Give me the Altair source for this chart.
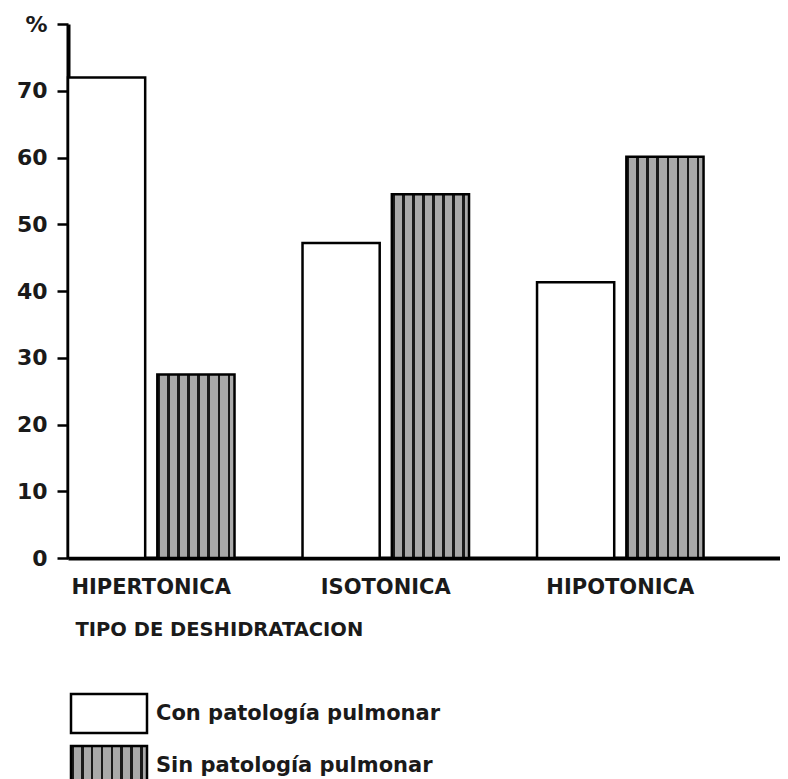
import altair as alt
import pandas as pd

categorias = ["HIPERTONICA", "ISOTONICA", "HIPOTONICA"]
series = ["Con patología pulmonar", "Sin patología pulmonar"]
con_valores = [72.0, 47.2, 41.3]
sin_valores = [27.5, 54.5, 60.1]
y_ticks = [0, 10, 20, 30, 40, 50, 60, 70, 80]

rows = []
for c, v in zip(categorias, con_valores):
    rows.append({"tipo": c, "serie": series[0], "pct": v})
for c, v in zip(categorias, sin_valores):
    rows.append({"tipo": c, "serie": series[1], "pct": v})
df = pd.DataFrame(rows)
leg = pd.DataFrame({"serie": series})

FONT = "DejaVu Sans"

# vertical stripes: dark lines on grey
stops = []
period = 0.13
dark = 0.035
k = 0
while k * period < 1.0:
    a = k * period
    b = min(a + dark, 1.0)
    stops.append(alt.GradientStop(offset=a, color="#1a1a1a"))
    stops.append(alt.GradientStop(offset=b, color="#1a1a1a"))
    stops.append(alt.GradientStop(offset=b, color="#a9a9a9"))
    c = min(a + period, 1.0)
    stops.append(alt.GradientStop(offset=c, color="#a9a9a9"))
    k += 1
stripes = alt.LinearGradient(gradient="linear", stops=stops, x1=0, x2=1, y1=0, y2=0)

x_enc = alt.X(
    "tipo:N",
    sort=categorias,
    scale=alt.Scale(paddingInner=0.29, paddingOuter=0.163, align=0),
    axis=alt.Axis(
        title="TIPO DE DESHIDRATACION",
        labelAngle=0,
        ticks=False,
        labelPadding=18,
        labelFontSize=21,
        labelFontWeight="bold",
        labelFont=FONT,
        labelColor="#1a1a1a",
        domainColor="#000000",
        domainWidth=4,
        titleFont=FONT,
        titleFontSize=19.5,
        titleFontWeight="bold",
        titleColor="#1a1a1a",
        titleAnchor="start",
        titleAlign="left",
        titleBaseline="alphabetic",
        titleX=7,
        titleY=77,
    ),
)
y_enc = alt.Y(
    "pct:Q",
    scale=alt.Scale(domain=[0, 80], nice=False),
    axis=alt.Axis(
        title=None,
        values=y_ticks,
        labelExpr="datum.value == 80 ? '%' : datum.label",
        grid=False,
        tickSize=11,
        tickWidth=2.5,
        tickColor="#000000",
        labelPadding=10,
        labelFont=FONT,
        labelFontSize=22,
        labelFontWeight="bold",
        labelColor="#1a1a1a",
        domainColor="#000000",
        domainWidth=4,
        minExtent=55,
    ),
)
xo = alt.XOffset("serie:N", scale=alt.Scale(domain=series, paddingInner=0.136, paddingOuter=0))

base = alt.Chart(df).encode(x=x_enc, y=y_enc, xOffset=xo)
con_bars = base.transform_filter(alt.datum.serie == series[0]).mark_bar(
    fill="white", stroke="#000000", strokeWidth=2.5
)
sin_bars = base.transform_filter(alt.datum.serie == series[1]).mark_bar(
    fill=stripes, stroke="#000000", strokeWidth=2.5
)
main = alt.layer(con_bars, sin_bars).properties(width=712, height=534)

ly = alt.Y("serie:N", axis=None, scale=alt.Scale(domain=series, paddingInner=0.25, paddingOuter=0))
lbase = alt.Chart(leg).encode(y=ly)
lcon = lbase.transform_filter(alt.datum.serie == series[0]).mark_rect(
    fill="white", stroke="#000000", strokeWidth=2.5
).encode(x=alt.value(3), x2=alt.value(79))
lsin = lbase.transform_filter(alt.datum.serie == series[1]).mark_rect(
    fill=stripes, stroke="#000000", strokeWidth=2.5
).encode(x=alt.value(3), x2=alt.value(79))
ltext = lbase.mark_text(
    align="left", baseline="middle", font=FONT, fontSize=21, fontWeight="bold", color="#1a1a1a"
).encode(x=alt.value(88), text="serie:N")
legend_chart = alt.layer(lcon, lsin, ltext).properties(width=420, height=91)

chart = alt.vconcat(main, legend_chart, spacing=53).properties(
    padding={"left": 5, "top": 5, "right": 0, "bottom": 5}
).configure(
    background="white", view=alt.ViewConfig(stroke=None)
)

chart.save("out.html", embed_options={"renderer": "svg", "actions": False})
